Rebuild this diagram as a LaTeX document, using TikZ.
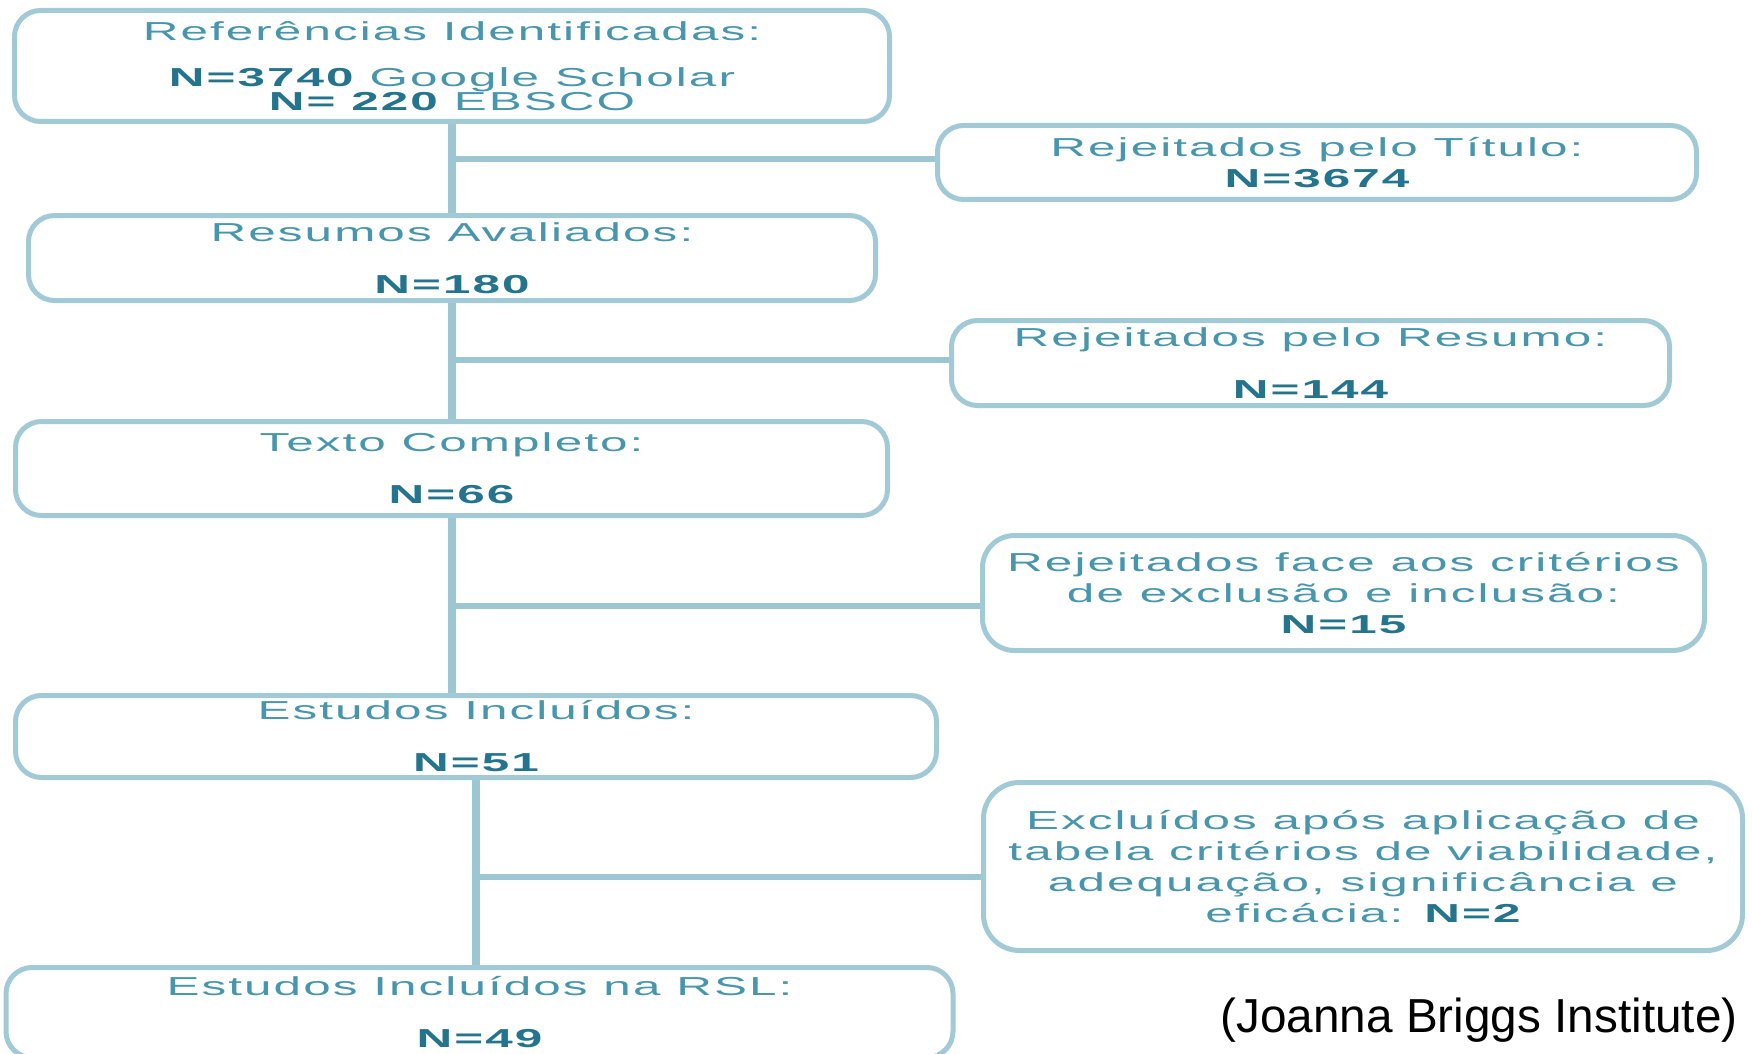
\documentclass[tikz,border=0pt]{standalone}
\usepackage{fontspec}
\setmainfont{Liberation Sans}
\newfontfamily\flowfont[FakeStretch=1.9,LetterSpace=8]{Liberation Sans}
\usepackage{xcolor}
\definecolor{boxline}{RGB}{162,202,214}
\definecolor{trunkline}{RGB}{156,198,210}
\definecolor{flowtext}{RGB}{72,150,174}
\definecolor{flownum}{RGB}{36,116,142}
\newcommand{\nval}[1]{{\bfseries\color{flownum}#1}}
\tikzset{
  stage/.style={draw=boxline, line width=2.5pt, rounded corners=13pt, fill=white,
    align=center, inner sep=0pt, text=flowtext,
    font=\flowfont\fontsize{13}{15.5}\selectfont},
  trunk/.style={draw=trunkline, line width=4pt},
  branch/.style={draw=trunkline, line width=3pt},
}

\begin{document}
\begin{tikzpicture}[x=0.5pt, y=-0.5pt]
    \useasboundingbox (0,0) rectangle (1752,1054);
    \clip (0,0) rectangle (1752,1054);
    % left column
    \node[stage, minimum width=437.5pt, minimum height=55.5pt] (refs) at (452,66)
      {Referências Identificadas:\\[7.5pt] \nval{N=3740} Google Scholar\\[-3.5pt] \nval{N= 220} EBSCO};
    \node[stage, minimum width=423.5pt, minimum height=42.5pt] (resumos) at (452,258)
      {Resumos Avaliados:\\[10.5pt] \nval{N=180}};
    \node[stage, minimum width=436pt, minimum height=47pt] (texto) at (451.5,468.5)
      {Texto Completo:\\[10.5pt] \nval{N=66}};
    \node[stage, minimum width=460.5pt, minimum height=41pt] (incluidos) at (476,736.5)
      {Estudos Incluídos:\\[10.5pt] \nval{N=51}};
    \node[stage, minimum width=473.5pt, minimum height=45pt] (rsl) at (479.5,1012.5)
      {Estudos Incluídos na RSL:\\[10.5pt] \nval{N=49}};
    % right column
    \node[stage, minimum width=379.5pt, minimum height=37pt] (titulo) at (1317,162.5)
      {Rejeitados pelo Título:\\ \nval{N=3674}};
    \node[stage, minimum width=359pt, minimum height=42.5pt] (rejresumo) at (1310.5,363)
      {Rejeitados pelo Resumo:\\[10.5pt] \nval{N=144}};
    \node[stage, rounded corners=16pt, minimum width=361pt, minimum height=57.5pt] (rejcrit) at (1343.5,593)
      {Rejeitados face aos critérios\\ de exclusão e inclusão:\\ \nval{N=15}};
    \node[stage, rounded corners=18pt, minimum width=379.5pt, minimum height=84pt] (excluidos) at (1363,866.5)
      {Excluídos após aplicação de\\ tabela critérios de viabilidade,\\ adequação, significância e\\ eficácia: \nval{N=2}};
    % trunk and branches
    \draw[trunk] (refs.south) -- (refs.south |- resumos.north);
    \draw[trunk] (resumos.south) -- (resumos.south |- texto.north);
    \draw[trunk] (texto.south) -- (texto.south |- incluidos.north);
    \draw[trunk] (incluidos.south) -- (incluidos.south |- rsl.north);
    \coordinate (j1) at (452,159);
    \coordinate (j2) at (452,360);
    \coordinate (j3) at (453,606);
    \coordinate (j4) at (477,877);
    \draw[branch] (j1) -- (j1 -| titulo.west);
    \draw[branch] (j2) -- (j2 -| rejresumo.west);
    \draw[branch] (j3) -- (j3 -| rejcrit.west);
    \draw[branch] (j4) -- (j4 -| excluidos.west);
    \node[anchor=base east, inner sep=0pt, font=\fontsize{23.85}{28}\selectfont] (fonte) at (1738,1032)
      {(Joanna Briggs Institute)};
  \end{tikzpicture}
\end{document}
